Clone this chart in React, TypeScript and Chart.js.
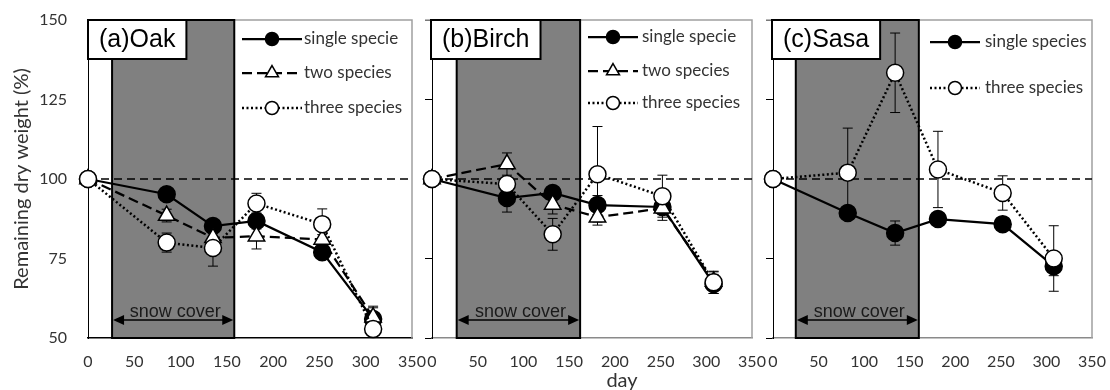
import React, { useEffect, useRef } from 'react';
import { Chart, registerables } from 'chart.js';

Chart.register(...registerables);

// ---------- data ----------
const xTickValues = [0, 50, 100, 150, 200, 250, 300, 350];
const yTickValues = [50, 75, 100, 125, 150];
const referenceLevel = 100;
const xAxisTitle = 'day';
const yAxisTitle = 'Remaining dry weight (%)';

const oakDays = [0, 85, 135, 182, 253, 308];
const oakSingle = [100, 95.2, 85.2, 86.8, 77.0, 56.0];
const oakSingleErr = [0, 1.5, 2.0, 2.5, 1.5, 4.0];
const oakTwo = [100, 88.5, 81.5, 82.0, 81.0, 56.5];
const oakTwoErr = [0, 2.0, 1.5, 4.0, 1.5, 3.0];
const oakThree = [100, 80.0, 78.3, 92.3, 85.8, 52.8];
const oakThreeErr = [0, 3.0, 5.7, 3.2, 4.8, 2.0];
const oakSnow = [26, 158];

const birchDays = [0, 82, 132, 181, 252, 308];
const birchSingle = [100, 94.0, 95.6, 91.8, 91.2, 67.0];
const birchSingleErr = [0, 4.4, 2.0, 3.0, 4.2, 3.0];
const birchTwo = [100, 104.7, 92.0, 88.0, 90.8, 67.8];
const birchTwoErr = [0, 3.5, 3.0, 2.5, 2.0, 3.0];
const birchThree = [100, 98.4, 82.6, 101.5, 94.6, 67.5];
const birchThreeErr = [0, 2.0, 5.0, 15.0, 6.6, 3.5];
const birchSnow = [27, 162];

const sasaDays = [0, 82, 134, 181, 252, 308];
const sasaSingle = [100, 89.3, 83.0, 87.4, 85.8, 72.6];
const sasaSingleErr = [0, 2.0, 3.8, 2.0, 2.0, 3.0];
const sasaThree = [100, 102.0, 133.4, 103.0, 95.6, 75.0];
const sasaThreeErr = [0, 14.0, 12.5, 12.0, 5.4, 10.3];
const sasaSnow = [25, 160];

// ---------- styles ----------
const STYLE: Record<string, any> = {
  single: { dash: [], width: 2.25, point: 'circle', fill: '#000000', radius: 8.5, legendR: 6.5 },
  two: { dash: [10, 5], width: 2.25, point: 'triangle', fill: '#ffffff', radius: 9.5, legendR: 7.5 },
  three: { dash: [2, 2.5], width: 2.5, point: 'circle', fill: '#ffffff', radius: 8.5, legendR: 6.5 },
};

const FONT_TICK = { family: 'Lato', size: 16 };
const TEXT_COLOR = '#333333';
const CANVAS_H = 390;
const TOP_PAD = 20;
const X_AXIS_H = 52;

const panels = [
  {
    title: '(a)Oak', days: oakDays, snow: oakSnow, showY: true,
    canvasLeft: 0, yAxisWidth: 88, plotWidth: 324, padRight: 18, bottomColor: '#000000',
    series: [
      { name: 'single specie', kind: 'single', values: oakSingle, err: oakSingleErr },
      { name: 'two species', kind: 'two', values: oakTwo, err: oakTwoErr },
      { name: 'three species', kind: 'three', values: oakThree, err: oakThreeErr },
    ],
    legend: { sampleX: 154, sampleW: 60, textX: 216, rows: [19, 53, 88] },
  },
  {
    title: '(b)Birch', days: birchDays, snow: birchSnow, showY: false,
    canvasLeft: 412, yAxisWidth: 20, plotWidth: 320, padRight: 18, bottomColor: '#8a8a8a',
    series: [
      { name: 'single specie', kind: 'single', values: birchSingle, err: birchSingleErr },
      { name: 'two species', kind: 'two', values: birchTwo, err: birchTwoErr },
      { name: 'three species', kind: 'three', values: birchThree, err: birchThreeErr },
    ],
    legend: { sampleX: 156, sampleW: 50, textX: 210, rows: [17, 51, 83] },
  },
  {
    title: '(c)Sasa', days: sasaDays, snow: sasaSnow, showY: false,
    canvasLeft: 753, yAxisWidth: 20, plotWidth: 319, padRight: 18, bottomColor: '#8a8a8a',
    series: [
      { name: 'single species', kind: 'single', values: sasaSingle, err: sasaSingleErr },
      { name: 'three species', kind: 'three', values: sasaThree, err: sasaThreeErr },
    ],
    legend: { sampleX: 157, sampleW: 50, textX: 212, rows: [22, 68] },
  },
];

function drawMarker(ctx: CanvasRenderingContext2D, kind: string, x: number, y: number, r: number) {
  const st = STYLE[kind];
  ctx.save();
  ctx.setLineDash([]);
  ctx.lineWidth = 1.5;
  ctx.strokeStyle = '#000';
  ctx.fillStyle = st.fill;
  ctx.beginPath();
  if (st.point === 'triangle') {
    for (let k = 0; k < 3; k++) {
      const a = (k * 2 * Math.PI) / 3;
      const px = x + Math.sin(a) * r;
      const py = y - Math.cos(a) * r;
      if (k === 0) ctx.moveTo(px, py); else ctx.lineTo(px, py);
    }
    ctx.closePath();
  } else {
    ctx.arc(x, y, r, 0, Math.PI * 2);
  }
  ctx.fill();
  ctx.stroke();
  ctx.restore();
}

function makePlugin(cfg: any) {
  return {
    id: 'panelDecor',
    beforeDatasetsDraw(chart: any) {
      const { ctx, chartArea: ca, scales } = chart;
      const xs = scales.x;
      const ys = scales.y;
      ctx.save();
      // top and right frame
      ctx.strokeStyle = '#a0a0a0';
      ctx.lineWidth = 1.5;
      ctx.beginPath();
      ctx.moveTo(ca.left - (cfg.showY ? 0 : 7), ca.top);
      ctx.lineTo(ca.right, ca.top);
      ctx.lineTo(ca.right, ca.bottom);
      ctx.stroke();
      // snow cover shade
      const x0 = xs.getPixelForValue(cfg.snow[0]);
      const x1 = xs.getPixelForValue(cfg.snow[1]);
      ctx.fillStyle = '#808080';
      ctx.fillRect(x0, ca.top, x1 - x0, ca.bottom - ca.top);
      ctx.strokeStyle = '#000';
      ctx.lineWidth = 2;
      ctx.strokeRect(x0, ca.top, x1 - x0, ca.bottom - ca.top);
      // snow cover label + arrow
      const ay = ca.bottom - 18;
      ctx.fillStyle = '#1a1a1a';
      ctx.font = '18px "Liberation Sans"';
      ctx.textAlign = 'center';
      ctx.textBaseline = 'alphabetic';
      ctx.fillText('snow cover', (x0 + x1) / 2 + 2, ay - 3);
      ctx.strokeStyle = '#000';
      ctx.lineWidth = 1.5;
      ctx.beginPath();
      ctx.moveTo(x0 + 4, ay);
      ctx.lineTo(x1 - 4, ay);
      ctx.stroke();
      ctx.fillStyle = '#000';
      ctx.beginPath();
      ctx.moveTo(x0 + 1, ay);
      ctx.lineTo(x0 + 12, ay - 5);
      ctx.lineTo(x0 + 12, ay + 5);
      ctx.closePath();
      ctx.fill();
      ctx.beginPath();
      ctx.moveTo(x1 - 1, ay);
      ctx.lineTo(x1 - 12, ay - 5);
      ctx.lineTo(x1 - 12, ay + 5);
      ctx.closePath();
      ctx.fill();
      // reference line at 100 %
      const yr = ys.getPixelForValue(referenceLevel);
      ctx.setLineDash([8, 5]);
      ctx.lineWidth = 1.5;
      ctx.beginPath();
      ctx.moveTo(ca.left, yr);
      ctx.lineTo(ca.right, yr);
      ctx.stroke();
      ctx.setLineDash([]);
      // error bars
      ctx.lineWidth = 1;
      ctx.strokeStyle = '#000';
      cfg.series.forEach((s: any) => {
        s.values.forEach((v: number, i: number) => {
          const e = s.err[i];
          if (!e) return;
          const px = xs.getPixelForValue(cfg.days[i]);
          const yt = ys.getPixelForValue(v + e);
          const yb = ys.getPixelForValue(v - e);
          ctx.beginPath();
          ctx.moveTo(px, yt);
          ctx.lineTo(px, yb);
          ctx.moveTo(px - 5, yt);
          ctx.lineTo(px + 5, yt);
          ctx.moveTo(px - 5, yb);
          ctx.lineTo(px + 5, yb);
          ctx.stroke();
        });
      });
      ctx.restore();
    },
    afterDraw(chart: any) {
      const { ctx, chartArea: ca } = chart;
      ctx.save();
      // title box
      ctx.font = '25px "Liberation Sans"';
      const tw = ctx.measureText(cfg.title).width;
      const bx = ca.left - (cfg.showY ? 0 : 1);
      const by = ca.top;
      const bw = tw + 22;
      const bh = 39;
      ctx.fillStyle = '#fff';
      ctx.fillRect(bx, by, bw, bh);
      ctx.strokeStyle = '#000';
      ctx.lineWidth = 2;
      ctx.strokeRect(bx, by, bw, bh);
      ctx.fillStyle = '#000';
      ctx.textAlign = 'left';
      ctx.textBaseline = 'middle';
      ctx.fillText(cfg.title, bx + 11, by + bh / 2 + 1);
      // legend
      const lg = cfg.legend;
      cfg.series.forEach((s: any, i: number) => {
        const st = STYLE[s.kind];
        const y = ca.top + lg.rows[i];
        const sx = ca.left + lg.sampleX;
        ctx.save();
        ctx.strokeStyle = '#000';
        ctx.lineWidth = st.width;
        ctx.setLineDash(st.dash);
        ctx.beginPath();
        ctx.moveTo(sx, y);
        ctx.lineTo(sx + lg.sampleW, y);
        ctx.stroke();
        ctx.restore();
        drawMarker(ctx, s.kind, sx + lg.sampleW / 2, y, st.legendR);
        ctx.fillStyle = TEXT_COLOR;
        ctx.font = '17px Lato';
        ctx.textAlign = 'left';
        ctx.textBaseline = 'middle';
        ctx.fillText(s.name, ca.left + lg.textX, y);
      });
      ctx.restore();
    },
  };
}

function buildConfig(cfg: any): any {
  const n = cfg.series.length;
  return {
    type: 'line',
    data: {
      datasets: cfg.series.map((s: any, i: number) => {
        const st = STYLE[s.kind];
        return {
          label: s.name,
          data: cfg.days.map((d: number, j: number) => ({ x: d, y: s.values[j] })),
          borderColor: '#000',
          borderWidth: st.width,
          borderDash: st.dash,
          pointStyle: st.point,
          pointRadius: st.radius,
          pointHoverRadius: st.radius,
          pointBackgroundColor: st.fill,
          pointBorderColor: '#000',
          pointBorderWidth: 1.5,
          tension: 0,
          fill: false,
          clip: false,
          order: n - i,
        };
      }),
    },
    options: {
      animation: false,
      responsive: false,
      events: [],
      layout: { padding: { top: TOP_PAD, right: cfg.padRight, bottom: 0, left: 0 } },
      plugins: { legend: { display: false }, tooltip: { enabled: false } },
      scales: {
        x: {
          type: 'linear',
          min: 0,
          max: 350,
          afterBuildTicks: (scale: any) => {
            scale.ticks = xTickValues.map((v) => ({ value: v }));
          },
          afterFit: (scale: any) => {
            scale.height = X_AXIS_H;
            scale.paddingLeft = 0;
            scale.paddingRight = 0;
            scale.paddingTop = 0;
            scale.paddingBottom = 0;
          },
          ticks: { font: FONT_TICK, color: TEXT_COLOR, padding: 14, maxRotation: 0, autoSkip: false },
          grid: { display: false, drawTicks: false },
          border: { display: true, color: cfg.bottomColor, width: 1.5 },
        },
        y: {
          type: 'linear',
          min: 50,
          max: 150,
          afterBuildTicks: (scale: any) => {
            scale.ticks = yTickValues.map((v) => ({ value: v }));
          },
          afterFit: (scale: any) => {
            scale.width = cfg.yAxisWidth;
            scale.paddingLeft = 0;
            scale.paddingRight = 0;
            scale.paddingTop = 0;
            scale.paddingBottom = 0;
          },
          ticks: { display: cfg.showY, font: FONT_TICK, color: TEXT_COLOR, padding: 21 },
          grid: {
            display: !cfg.showY,
            drawOnChartArea: false,
            drawTicks: !cfg.showY,
            tickLength: 7,
            color: '#000',
          },
          border: { display: true, color: '#000', width: 1 },
          title: {
            display: cfg.showY,
            text: yAxisTitle,
            font: { family: 'Lato', size: 20 },
            color: TEXT_COLOR,
            padding: { top: 10, bottom: 0 },
          },
        },
      },
    },
    plugins: [makePlugin(cfg)],
  };
}

function Panel({ cfg }: { cfg: any }) {
  const ref = useRef<HTMLCanvasElement | null>(null);
  useEffect(() => {
    if (!ref.current) return;
    const chart = new Chart(ref.current, buildConfig(cfg));
    return () => chart.destroy();
  }, [cfg]);
  const w = cfg.yAxisWidth + cfg.plotWidth + cfg.padRight;
  return (
    <canvas
      ref={ref}
      width={w}
      height={CANVAS_H}
      style={{ position: 'absolute', left: cfg.canvasLeft, top: 0, width: w, height: CANVAS_H }}
    />
  );
}

export default function App() {
  return (
    <div style={{ position: 'fixed', left: 0, top: 0, width: 1110, height: 390, background: '#fff', overflow: 'hidden' }}>
      {panels.map((p) => (
        <Panel key={p.title} cfg={p} />
      ))}
      <div
        style={{
          position: 'absolute',
          left: 602,
          top: 369,
          width: 40,
          textAlign: 'center',
          font: '20px Lato',
          lineHeight: '20px',
          color: TEXT_COLOR,
        }}
      >
        {xAxisTitle}
      </div>
    </div>
  );
}
